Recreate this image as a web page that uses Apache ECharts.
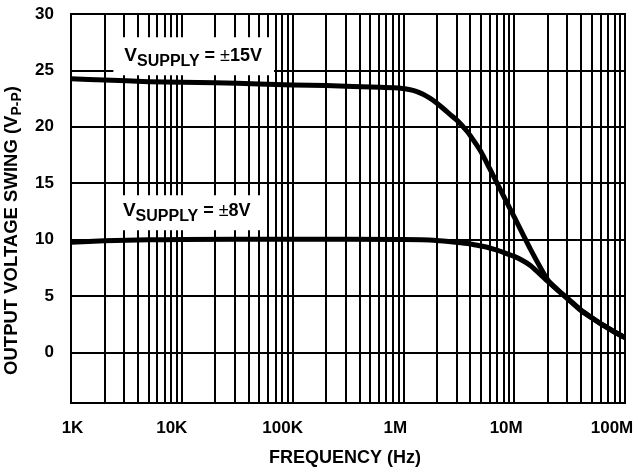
<!DOCTYPE html>
<html>
<head>
<meta charset="utf-8">
<script src="https://cdn.jsdelivr.net/npm/echarts@6/dist/echarts.min.js"></script>
<style>
  html, body { margin: 0; padding: 0; background: #fff; }
  #chart { width: 634px; height: 468px; }
</style>
</head>
<body>
<div id="chart"></div>
<script>
// Output swing vs frequency for two supply voltages
const supply15Freq  = [1e3, 2e3, 5e3, 1e4, 2e4, 5e4, 1e5, 2e5, 6.15e5, 8.35e5, 1.03e6, 1.22e6, 1.41e6, 1.63e6, 1.85e6, 2.18e6, 2.63e6, 3.1e6, 3.75e6, 4.36e6, 5e6, 6e6, 7e6, 1e7, 1.4e7, 2e7, 2.5e7, 3e7, 4e7, 5e7, 6e7, 7e7, 8e7, 1e8];
const supply15Swing = [24.25, 24.15, 24.0, 23.95, 23.9, 23.8, 23.7, 23.65, 23.5, 23.45, 23.37, 23.22, 23.0, 22.7, 22.35, 21.8, 21.1, 20.5, 19.6, 18.7, 17.8, 16.3, 15.0, 12.0, 9.15, 6.45, 5.5, 4.78, 3.7, 3.05, 2.55, 2.15, 1.8, 1.3];

const supply8Freq  = [1e3, 2e3, 5e3, 1e4, 1e5, 1e6, 2e6, 3e6, 4e6, 5e6, 6e6, 7e6, 8e6, 1e7, 1.2e7, 1.4e7, 1.7e7, 2e7, 2.5e7, 3e7, 4e7, 5e7, 6e7, 7e7, 8e7, 1e8];
const supply8Swing = [9.75, 9.88, 9.97, 10.0, 10.02, 10.0, 9.92, 9.75, 9.6, 9.42, 9.25, 9.05, 8.85, 8.5, 8.12, 7.7, 6.95, 6.3, 5.45, 4.82, 3.75, 3.08, 2.56, 2.17, 1.82, 1.3];

const xTickLabels = ['1K', '10K', '100K', '1M', '10M', '100M'];
const minorMultipliers = [2, 3, 4, 5, 6, 7, 8, 9];
const decadeStarts = [1e3, 1e4, 1e5, 1e6, 1e7];

const FONT = "'Liberation Sans', Arial, Helvetica, sans-serif";
const BLACK = '#000';

const minorFreqs = [];
decadeStarts.forEach(d => minorMultipliers.forEach(m => minorFreqs.push(d * m)));

const pairs = (xs, ys) => xs.map((x, i) => [x, ys[i]]);

// per-label nudges of the frequency tick text
const xLabelRich = {};
const xLabelPad = [[0, 0, 0, 3], [0, 20, 0, 0], [0, 20, 0, 0], [0, 16, 0, 0], [0, 16, 0, 0], [0, 26, 0, 0]];
xLabelPad.forEach((p, i) => {
  xLabelRich['t' + i] = { fontSize: 17, fontWeight: 'bold', color: BLACK, fontFamily: FONT, padding: p };
});

function supplyLabel(text) {
  return {
    show: true,
    position: 'inside',
    formatter: '{v|V}{s|SUPPLY}{e| = }{pm|±}{t|' + text + '}',
    backgroundColor: '#fff',
    rich: {
      v:  { fontSize: 19, fontWeight: 'bold', lineHeight: 26, color: BLACK, fontFamily: FONT },
      s:  { fontSize: 16, fontWeight: 'bold', lineHeight: 16, verticalAlign: 'bottom', color: BLACK, fontFamily: FONT },
      e:  { fontSize: 18, fontWeight: 'bold', lineHeight: 26, color: BLACK, fontFamily: FONT },
      pm: { fontSize: 18, fontWeight: 'normal', lineHeight: 26, color: BLACK, fontFamily: FONT },
      t:  { fontSize: 18, fontWeight: 'bold', lineHeight: 26, color: BLACK, fontFamily: FONT }
    }
  };
}

const curveStyle = { color: BLACK, width: 5, cap: 'butt', join: 'round' };

const chart = echarts.init(document.getElementById('chart'), null, { renderer: 'canvas' });

chart.setOption({
  animation: false,
  backgroundColor: '#fff',
  grid: {
    left: 71, right: 9, top: 14, bottom: 65,
    outerBoundsMode: 'none',
    containLabel: false,
    show: true, borderColor: BLACK, borderWidth: 2, backgroundColor: 'transparent'
  },
  xAxis: {
    type: 'log',
    logBase: 10,
    min: 1e3,
    max: 1e8,
    splitNumber: 5,
    axisLine: { show: true, lineStyle: { color: BLACK, width: 2 } },
    axisTick: { show: false },
    splitLine: { show: true, lineStyle: { color: BLACK, width: 2 } },
    axisLabel: {
      margin: 17,
      fontSize: 17,
      fontWeight: 'bold',
      color: BLACK,
      fontFamily: FONT,
      showMinLabel: true,
      showMaxLabel: true,
      formatter: function (v) {
        const k = Math.round(Math.log10(v)) - 3;
        return '{t' + k + '|' + xTickLabels[k] + '}';
      },
      rich: xLabelRich
    },
    name: 'FREQUENCY (Hz)',
    nameLocation: 'middle',
    nameGap: 46,
    nameTextStyle: { fontSize: 18, fontWeight: 'bold', color: BLACK, fontFamily: FONT, padding: [0, 6, 0, 0] }
  },
  yAxis: {
    type: 'value',
    min: -4.5,
    max: 30,
    splitNumber: 7,
    axisLine: { show: true, lineStyle: { color: BLACK, width: 2 } },
    axisTick: { show: false },
    splitLine: { show: true, lineStyle: { color: BLACK, width: 2 } },
    axisLabel: {
      margin: 17,
      fontSize: 17,
      fontWeight: 'bold',
      color: BLACK,
      fontFamily: FONT,
      showMinLabel: false,
      formatter: function (v) { return v < 0 ? '' : String(v); }
    },
    name: '{a|OUTPUT VOLTAGE SWING (V}{b|P-P}{a|)}',
    nameLocation: 'middle',
    nameRotate: 90,
    nameGap: 40,
    nameTextStyle: {
      padding: [0, 44, 0, 0],
      rich: {
        a: { fontSize: 18.5, fontWeight: 'bold', lineHeight: 24, color: BLACK, fontFamily: FONT },
        b: { fontSize: 14, fontWeight: 'bold', lineHeight: 14, verticalAlign: 'bottom', color: BLACK, fontFamily: FONT }
      }
    }
  },
  series: [
    {
      name: '±15V',
      type: 'line',
      data: pairs(supply15Freq, supply15Swing),
      showSymbol: false,
      smooth: 0.2,
      z: 3,
      lineStyle: curveStyle,
      markLine: {
        z: 1,
        silent: true,
        symbol: ['none', 'none'],
        label: { show: false },
        lineStyle: { color: BLACK, width: 2, type: 'solid' },
        emphasis: { disabled: true },
        data: minorFreqs.map(f => ({ xAxis: f }))
      },
      markPoint: {
        z: 10,
        silent: true,
        symbol: 'rect',
        symbolSize: 1,
        itemStyle: { color: 'rgba(0,0,0,0)' },
        label: Object.assign(supplyLabel('15V'), { padding: [6, 12, 6, 11] }),
        data: [{ coord: [12800, 26.26] }]
      }
    },
    {
      name: '±8V',
      type: 'line',
      data: pairs(supply8Freq, supply8Swing),
      showSymbol: false,
      smooth: 0.2,
      z: 3,
      lineStyle: curveStyle,
      markPoint: {
        z: 10,
        silent: true,
        symbol: 'rect',
        symbolSize: 1,
        itemStyle: { color: 'rgba(0,0,0,0)' },
        label: Object.assign(supplyLabel('8V'), { padding: [3, 10, 6, 9] }),
        data: [{ coord: [11200, 12.38] }]
      }
    }
  ]
});
</script>
</body>
</html>
